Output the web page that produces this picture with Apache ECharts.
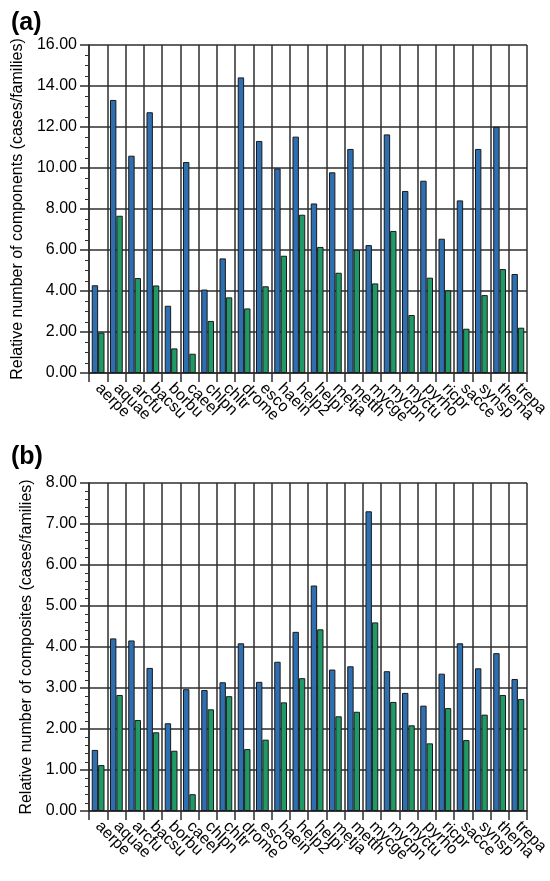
<!DOCTYPE html>
<html>
<head>
<meta charset="utf-8">
<script src="https://cdn.jsdelivr.net/npm/echarts@6/dist/echarts.min.js"></script>
<style>html,body{margin:0;padding:0;background:#fff}#c{width:550px;height:881px}</style>
</head>
<body>
<div id="c"></div>
<script>
const categories = ['aerpe','aquae','arcfu','bacsu','borbu','caeel','chlpn','chltr','drome','esco','haein','help2','helpi','metja','metth','mycge','mycpn','myctu','pyrho','ricpr','sacce','synsp','thema','trepa'];
const componentsBlue = [4.28,13.32,10.60,12.72,3.28,10.29,4.07,5.59,14.42,11.32,9.98,11.53,8.27,9.79,10.93,6.24,11.64,8.88,9.38,6.55,8.42,10.93,12.01,4.83];
const componentsGreen = [1.97,7.67,4.63,4.27,1.20,0.94,2.54,3.69,3.15,4.23,5.72,7.72,6.15,4.89,6.01,4.37,6.93,2.83,4.65,4.03,2.16,3.80,5.07,2.21];
const compositesBlue = [1.49,4.21,4.16,3.49,2.14,2.97,2.95,3.14,4.09,3.15,3.64,4.37,5.50,3.45,3.53,7.31,3.41,2.88,2.57,3.35,4.09,3.48,3.85,3.22];
const compositesGreen = [1.12,2.83,2.22,1.92,1.47,0.41,2.48,2.80,1.51,1.74,2.65,3.24,4.43,2.31,2.42,4.60,2.66,2.09,1.65,2.51,1.73,2.35,2.83,2.73];
const panelLabels = ['(a)','(b)'];
const yTitles = ['Relative number of components (cases/families)','Relative number of composites (cases/families)'];

const FONT = '"Liberation Sans", Arial, sans-serif';
const LINE = '#2e2e2e';
const BLUE = '#2d6fb1';
const GREEN = '#1f9a67';

function xAxis(gridIndex){
  return {
    type:'category', gridIndex, data:categories, boundaryGap:true,
    axisLine:{show:true, lineStyle:{color:LINE, width:1.5}},
    axisTick:{show:true, length:9, lineStyle:{color:LINE, width:1.5}},
    splitLine:{show:true, lineStyle:{color:LINE, width:1.5}},
    axisLabel:{interval:0, rotate:-45, margin:13, fontSize:16, color:'#000', fontFamily:FONT}
  };
}
function yAxis(gridIndex, max, interval, minorSplit, name){
  return {
    type:'value', gridIndex, min:0, max, interval,
    name, nameLocation:'middle', nameGap:52,
    nameTextStyle:{fontSize:16, color:'#000', fontFamily:FONT},
    axisLine:{show:true, lineStyle:{color:LINE, width:1.5}},
    axisTick:{show:true, length:9, lineStyle:{color:LINE, width:1.5}},
    minorTick:{show:true, splitNumber:minorSplit, length:4, lineStyle:{color:LINE, width:1}},
    splitLine:{show:true, lineStyle:{color:LINE, width:1.5}},
    axisLabel:{margin:12, fontSize:16, color:'#000', fontFamily:FONT, formatter:v=>v.toFixed(2)}
  };
}
function bars(data, color, idx){
  return {
    type:'bar', data, xAxisIndex:idx, yAxisIndex:idx,
    barGap:'0%', barCategoryGap:'30%',
    itemStyle:{color, borderColor:'#1a1a1a', borderWidth:1},
    silent:true, animation:false
  };
}
const chart = echarts.init(document.getElementById('c'), null, {renderer:'canvas'});
chart.setOption({
  backgroundColor:'#fff',
  animation:false,
  title:[
    {text:panelLabels[0], left:6, top:6, textStyle:{fontSize:25, fontWeight:'bold', color:'#000', fontFamily:FONT}},
    {text:panelLabels[1], left:6, top:440, textStyle:{fontSize:25, fontWeight:'bold', color:'#000', fontFamily:FONT}}
  ],
  grid:[
    {left:89, top:45, width:438, height:328, containLabel:false, outerBoundsMode:'none'},
    {left:89, top:483, width:438, height:328, containLabel:false, outerBoundsMode:'none'}
  ],
  xAxis:[xAxis(0), xAxis(1)],
  yAxis:[yAxis(0,16,2,4,yTitles[0]), yAxis(1,8,1,5,yTitles[1])],
  series:[
    bars(componentsBlue, BLUE, 0), bars(componentsGreen, GREEN, 0),
    bars(compositesBlue, BLUE, 1), bars(compositesGreen, GREEN, 1)
  ]
});
</script>
</body>
</html>
